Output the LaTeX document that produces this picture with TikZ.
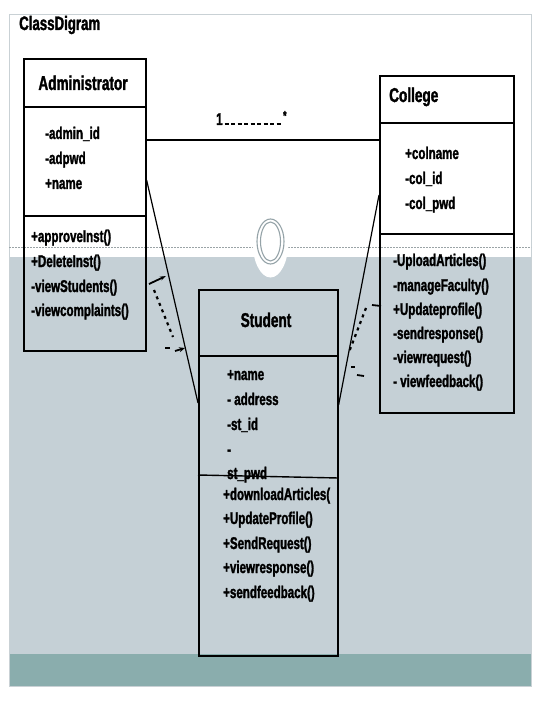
\documentclass[tikz,border=0pt]{standalone}
\usepackage{fontspec}
\setmainfont{Liberation Sans}[FakeStretch=0.68, BoldFeatures={FakeBold=1.6}]
\usetikzlibrary{calc,arrows.meta}
\definecolor{slidegray}{HTML}{C5D0D6}
\definecolor{tealband}{HTML}{8AADAD}
\definecolor{framegray}{HTML}{C9D1D5}
\definecolor{dashgray}{HTML}{9AA3A6}
\definecolor{ringgray}{HTML}{95A3A8}
\newcommand\mydsh{\rule{4pt}{1.8pt}\hspace{2.5pt}}
\begin{document}
\begin{tikzpicture}[x=1pt,y=-1pt,
  font=\fontsize{17}{20}\selectfont\bfseries,
  comp/.style={draw=black, line width=1.6pt, inner sep=0pt, anchor=north west},
  txt/.style={anchor=base west, inner sep=0pt},
  ttl/.style={font=\fontsize{20}{24}\selectfont\bfseries, inner sep=0pt},
  assoc/.style={line width=1.5pt},
  link/.style={line width=1.2pt},
  depline/.style={line width=2.2pt, dash pattern=on 3pt off 4pt},
  marks/.style={line width=1.8pt}]
\useasboundingbox (0,0) rectangle (542,703);
% background slide
\fill[white] (0,0) rectangle (542,703);
\fill[slidegray] (9.5,257) rectangle (530.5,654);
\fill[tealband] (9.5,654) rectangle (530.5,686);
\draw[framegray, line width=1pt] (9,15) rectangle (531,686);
\draw[dashgray, line width=0.6pt, dash pattern=on 2pt off 1pt] (9,247.5) -- (531,247.5);
\fill[white] (270.5,241.5) ellipse [x radius=18pt, y radius=36pt];
\draw[ringgray, line width=1.1pt] (270.5,241.5) ellipse [x radius=13.5pt, y radius=22.5pt];
\draw[ringgray, line width=1.1pt] (270.5,241.5) ellipse [x radius=10pt, y radius=19.5pt];
% title
\node[txt, font=\fontsize{19.5}{22}\selectfont\bfseries] (cdtitle) at (19,30) {ClassDigram};
% Administrator
\node[comp, minimum width=122pt, minimum height=48pt] (admT) at (23,58) {};
\node[comp, minimum width=122pt, minimum height=109pt] (admA) at (23,106) {};
\node[comp, minimum width=122pt, minimum height=135pt] (admM) at (23,215) {};
\node[ttl, anchor=base] (admN) at (83,90) {Administrator};
\node[txt] (a1) at (45,139) {-admin\_id};
\node[txt] (a2) at (45,164) {-adpwd};
\node[txt] (a3) at (45,189) {+name};
\node[txt] (m1) at (31,242) {+approveInst()};
\node[txt] (m2) at (31,267) {+DeleteInst()};
\node[txt] (m3) at (31,292) {-viewStudents()};
\node[txt] (m4) at (31,316) {-viewcomplaints()};
% College
\node[comp, minimum width=134pt, minimum height=47pt] (colT) at (379,75) {};
\node[comp, minimum width=134pt, minimum height=111pt] (colA) at (379,122) {};
\node[comp, minimum width=134pt, minimum height=179pt] (colM) at (379,233) {};
\node[ttl, anchor=base west] (colN) at (389,102) {College};
\node[txt] (c1) at (405,159) {+colname};
\node[txt] (c2) at (405,184) {-col\_id};
\node[txt] (c3) at (405,209) {-col\_pwd};
\node[txt] (n1) at (393,266) {-UploadArticles()};
\node[txt] (n2) at (393,291) {-manageFaculty()};
\node[txt] (n3) at (393,315) {+Updateprofile()};
\node[txt] (n4) at (393,339) {-sendresponse()};
\node[txt] (n5) at (393,363) {-viewrequest()};
\node[txt] (n6) at (393,387) {- viewfeedback()};
% Student
\node[comp, minimum width=139pt, minimum height=66pt] (stuT) at (198,289) {};
\node[comp, minimum width=139pt, minimum height=300pt] (stuB) at (198,355) {};
\node[ttl, anchor=base] (stuN) at (266,327) {Student};
\node[txt] (s1) at (227,380) {+name};
\node[txt] (s2) at (227,405) {- address};
\node[txt] (s3) at (227,430) {-st\_id};
\node[txt] (s4) at (227,455) {-};
\node[txt] (s5) at (227,479) {st\_pwd};
\draw[line width=1.4pt] ($(stuB.north west)+(0,120)$) -- ($(stuB.north east)+(0,123)$);
\node[txt] (t1) at (223,500) {+downloadArticles(};
\node[txt] (t2) at (223,524) {+UpdateProfile()};
\node[txt] (t3) at (223,549) {+SendRequest()};
\node[txt] (t4) at (223,573) {+viewresponse()};
\node[txt] (t5) at (223,598) {+sendfeedback()};
% associations
\draw[assoc] ($(admA.north east)+(0,34)$) -- ($(colA.north west)+(0,18)$);
\node[txt] (mult) at (216,125) {1\hspace{2pt}\mydsh\mydsh\mydsh\mydsh\mydsh\mydsh\mydsh\mydsh\mydsh\raisebox{5pt}{\fontsize{13}{13}\selectfont *}};
\draw[link] ($(admA.north east)+(0,74)$) -- ($(stuB.north west)+(0,48)$);
\draw[link] ($(colA.north west)+(0,73)$) -- ($(stuB.north east)+(0,50)$);
% dependency fragments (left)
\coordinate (la) at (149,284);
\coordinate (lb) at (166,276);
\draw[marks, -{Stealth[length=6pt,width=4pt]}] (la) -- (lb);
\draw[depline] (154,290) -- (173,337);
\draw[marks] (165,348) -- (170,348);
\draw[marks, -{Stealth[length=6pt,width=5pt]}] (175,351) -- (185,348);
% dependency fragments (right)
\draw[depline] (366,308) -- (349,352);
\draw[marks] (372,305) -- (381,306);
\draw[marks] (351,367) -- (355,367);
\draw[marks] (357,375) -- (364,376);
\end{tikzpicture}
\end{document}
